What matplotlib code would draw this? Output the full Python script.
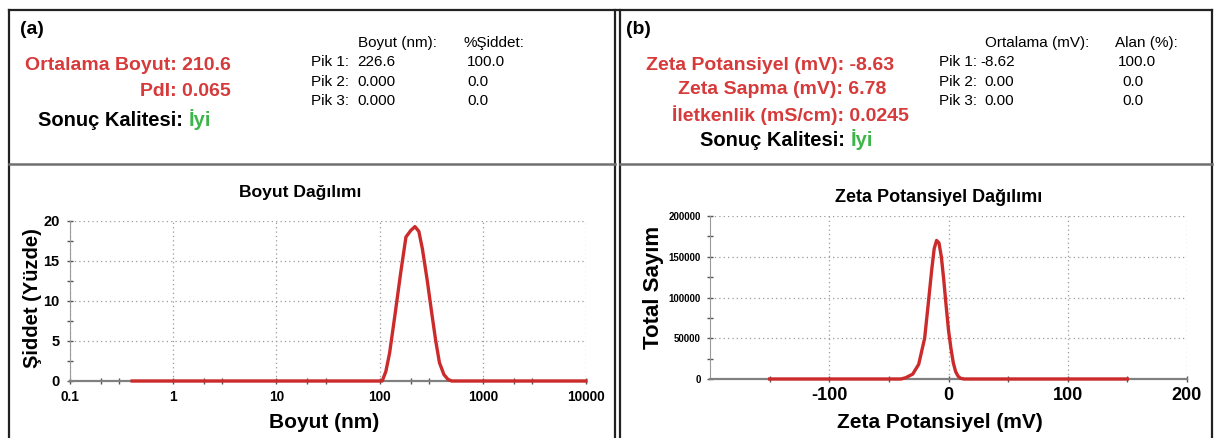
import matplotlib
matplotlib.use("Agg")
import matplotlib.pyplot as plt
from matplotlib.ticker import FixedLocator, NullFormatter

plt.rcParams["axes.unicode_minus"] = False

# Size distribution (DLS)
size_nm = [0.4, 1, 10, 100, 106, 115, 125, 140, 160, 180, 200, 220, 240, 260,
           290, 320, 350, 380, 420, 460, 500, 1000, 10000]
intensity_pct = [0, 0, 0, 0, 0, 1.2, 3.5, 8.0, 13.5, 18.0, 18.8, 19.3, 18.7, 16.5,
                 12.5, 8.5, 5.0, 2.3, 0.8, 0.2, 0, 0, 0]

# Zeta potential distribution
zeta_mv = [-150, -40, -36, -30, -25, -20, -17, -14, -12, -10, -8, -6, -4, -2,
           0, 2, 4, 6, 8, 10, 13, 150]
zeta_counts = [0, 0, 1500, 6000, 18000, 50000, 92000, 135000, 160000, 170000,
               167000, 150000, 122000, 90000, 60000, 38000, 20000, 9000, 3500,
               900, 0, 0]

size_ticks = [0.1, 1, 10, 100, 1000, 10000]
size_tick_labels = ["0.1", "1", "10", "100", "1000", "10000"]
intensity_ticks = [0, 5, 10, 15, 20]
zeta_ticks = [-100, 0, 100, 200]
count_ticks = [0, 50000, 100000, 150000, 200000]

# header tables
size_peak_nm = ["226.6", "0.000", "0.000"]
size_peak_pct = ["100.0", "0.0", "0.0"]
zeta_peak_mv = ["-8.62", "0.00", "0.00"]
zeta_peak_area = ["100.0", "0.0", "0.0"]

W, H = 1214, 438
RED = "#d63a3a"
LINE_RED = "#cc2b2b"
GREEN = "#3db54a"
FONT = ["Liberation Sans", "DejaVu Sans"]

fig = plt.figure(figsize=(W / 100, H / 100), dpi=100)
bg = fig.add_axes([0, 0, 1, 1], zorder=0)
bg.set_xlim(0, W)
bg.set_ylim(H, 0)
bg.axis("off")

# panel borders
for xs, ys in [([9, 9], [10, H]), ([9, 1212], [10, 10]), ([615, 615], [10, H]),
               ([620, 620], [10, H]), ([1212, 1212], [10, H])]:
    bg.plot(xs, ys, color="#222222", lw=1.6, clip_on=False)
for xs in ([9, 615], [620, 1212]):
    bg.plot(xs, [164, 164], color="#707070", lw=1.8, clip_on=False)


def txt(x, y, s, size, color="black", weight="bold", ha="left", **kw):
    return bg.text(x, y, s, fontsize=size, color=color, fontweight=weight,
                   ha=ha, va="center", family=FONT, **kw)


def quality(x, y):
    t = txt(x, y, "Sonuç Kalitesi: ", 14.5)
    bg.annotate("İyi", xy=(1, 0), xycoords=t, ha="left", va="bottom",
                fontsize=14.5, color=GREEN, fontweight="bold", family=FONT)


# ---- header (a)
txt(20, 30, "(a)", 14)
txt(231, 66, "Ortalama Boyut: 210.6", 14, RED, ha="right")
txt(231, 92, "PdI: 0.065", 14, RED, ha="right")
quality(38, 120)
txt(358, 43, "Boyut (nm):", 11, weight="normal")
txt(464, 43, "%Şiddet:", 11, weight="normal")
for i in range(3):
    y = 62 + i * 19.5
    txt(311, y, f"Pik {i + 1}:", 11, weight="normal")
    txt(357, y, size_peak_nm[i], 11, weight="normal")
    txt(467, y, size_peak_pct[i], 11, weight="normal")

# ---- header (b)
txt(626, 30, "(b)", 14)
txt(770, 65, "Zeta Potansiyel (mV): -8.63", 14, RED, ha="center")
txt(782, 89, "Zeta Sapma (mV): 6.78", 14, RED, ha="center")
txt(790, 115, "İletkenlik (mS/cm): 0.0245", 14, RED, ha="center")
quality(700, 140)
txt(985, 43, "Ortalama (mV):", 11, weight="normal")
txt(1115, 43, "Alan (%):", 11, weight="normal")
for i in range(3):
    y = 62 + i * 19.5
    txt(939, y, f"Pik {i + 1}:", 11, weight="normal")
    txt(980 if i == 0 else 984, y, zeta_peak_mv[i], 11, weight="normal")
    txt(1118 if i == 0 else 1122, y, zeta_peak_area[i], 11, weight="normal")

# titles and axis labels
txt(300, 192, "Boyut Dağılımı", 12.6, ha="center")
txt(939, 197, "Zeta Potansiyel Dağılımı", 13, ha="center")
txt(324, 423, "Boyut (nm)", 15, ha="center")
txt(940, 423, "Zeta Potansiyel (mV)", 15, ha="center")
txt(33, 298, "Şiddet (Yüzde)", 14.5, ha="center", rotation=90)
txt(654, 287, "Total Sayım", 16, ha="center", rotation=90)


def px_axes(x0, y0, x1, y1):
    return fig.add_axes([x0 / W, 1 - y1 / H, (x1 - x0) / W, (y1 - y0) / H], zorder=1)


def style(ax):
    ax.patch.set_alpha(0)
    for s in ("top", "right"):
        ax.spines[s].set_visible(False)
    ax.spines["left"].set_color("#9a9a9a")
    ax.spines["left"].set_linewidth(0.8)
    ax.spines["bottom"].set_color("#808080")
    ax.spines["bottom"].set_linewidth(1.6)
    ax.grid(True, which="major", color="#9a9a9a", linestyle=(0, (1, 2.5)), lw=0.9)
    ax.tick_params(which="both", direction="inout", color="#555555", width=1)
    ax.tick_params(which="major", length=5)
    ax.tick_params(which="minor", length=4)


# ---- size distribution plot
ax1 = px_axes(70, 221, 586, 381)
ax1.plot(size_nm, intensity_pct, color=LINE_RED, lw=2.4, clip_on=False, zorder=3)
ax1.set_xscale("log")
ax1.set_xlim(0.1, 10000)
ax1.set_ylim(0, 20)
ax1.set_xticks(size_ticks)
ax1.set_xticklabels(size_tick_labels)
ax1.xaxis.set_minor_locator(FixedLocator([0.2, 0.3, 2, 3, 20, 30, 200, 300, 2000, 3000]))
ax1.xaxis.set_minor_formatter(NullFormatter())
ax1.set_yticks(intensity_ticks)
ax1.yaxis.set_minor_locator(FixedLocator([2.5, 7.5, 12.5, 17.5]))
style(ax1)
ax1.tick_params(axis="y", which="major", pad=5)
ax1.tick_params(axis="x", which="major", pad=4)
for lab in ax1.get_xticklabels() + ax1.get_yticklabels():
    lab.set_fontweight("bold")
    lab.set_family(FONT)
for lab in ax1.get_xticklabels():
    lab.set_fontsize(9.8)
for lab in ax1.get_yticklabels():
    lab.set_fontsize(10.5)

# ---- zeta potential plot
ax2 = px_axes(710, 216, 1187, 379)
ax2.plot(zeta_mv, zeta_counts, color=LINE_RED, lw=2.4, clip_on=False, zorder=3)
ax2.set_xlim(-200, 200)
ax2.set_ylim(0, 200000)
ax2.set_xticks(zeta_ticks)
ax2.xaxis.set_minor_locator(FixedLocator([-150, -50, 50, 150]))
ax2.set_yticks(count_ticks)
ax2.set_yticklabels([str(v) for v in count_ticks])
ax2.yaxis.set_minor_locator(FixedLocator([25000, 75000, 125000, 175000]))
style(ax2)
ax2.tick_params(axis="y", which="major", pad=4)
for lab in ax2.get_xticklabels():
    lab.set_fontweight("bold")
    lab.set_family(FONT)
    lab.set_fontsize(13)
for lab in ax2.get_yticklabels():
    lab.set_fontweight("bold")
    lab.set_family(FONT)
    lab.set_fontsize(7)

fig.savefig("out.png", dpi=100)
